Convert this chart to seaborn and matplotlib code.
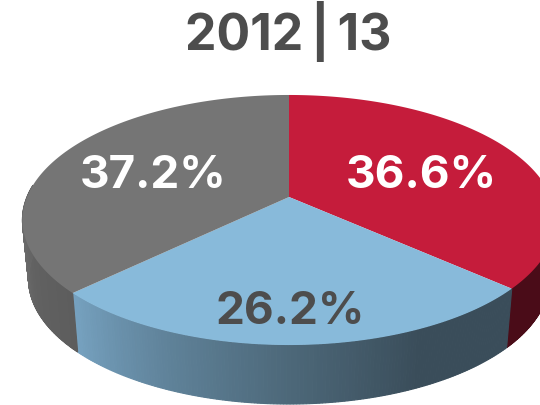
import numpy as np
import seaborn as sns
import matplotlib.pyplot as plt

title = "2012\u2009|\u200913"
shares = [36.6, 26.2, 37.2]
top_colors = ["#c51c3b", "#88bada", "#757575"]
wall_colors = [["#4a0c18", "#4a0c18"],
               ["#76a2c0", "#5f8299", "#4c6778", "#3a4d5a", "#3a4d5a"],
               ["#6b6b6b", "#636363", "#5d5d5d"]]
label_colors = ["white", "#4d4d4d", "white"]
label_pos = [(421, 176), (290, 312), (153, 176)]

cx, cy = 289, 197
rx, a, k = 262, 120.8, 0.184
wall_h = 59
wall_shrink = 0.977


def project(theta):
    # flat disc seen in perspective, theta runs clockwise from 12 o'clock
    u, v = np.sin(theta), np.cos(theta)
    d = 1 + k * v
    return cx + rx * u / d, cy - a * v / d


def project_low(theta):
    x, y = project(theta)
    return cx + (x - cx) * wall_shrink, y + wall_h


sns.set_theme(style="white")
plt.rcParams["font.family"] = ["Inter", "DejaVu Sans"]
fig = plt.figure(figsize=(5.4, 4.05), dpi=100)
ax = fig.add_axes([0, 0, 1, 1])
ax.set_xlim(0, 540)
ax.set_ylim(405, 0)
ax.axis("off")

edges = np.radians(np.cumsum([0] + shares) * 3.6)

# side walls, only the part facing us
for i in range(3):
    lo, hi = max(edges[i], np.pi / 2 - 0.1), min(edges[i + 1], 3 * np.pi / 2 + 0.1)
    steps = np.linspace(lo, hi, 160)
    x0, _ = project(steps)
    pal = sns.blend_palette(wall_colors[i], 160)
    # blue wall shades from left to right, so walk it along the screen
    rank = np.argsort(np.argsort(x0))
    for j in range(159):
        t = steps[j:j + 2]
        xt, yt = project(t)
        xb, yb = project_low(t)
        ax.fill(np.r_[xt, xb[::-1]], np.r_[yt, yb[::-1]], color=pal[rank[j]], lw=0.8, zorder=1)

# top face
for i in range(3):
    t = np.linspace(edges[i], edges[i + 1], 200)
    x, y = project(t)
    ax.fill(np.r_[cx, x], np.r_[cy, y], color=top_colors[i], lw=0, zorder=2)

for i in range(3):
    ax.text(label_pos[i][0], label_pos[i][1], "%.1f%%" % shares[i], color=label_colors[i],
            fontsize=33, fontweight="bold", ha="center", va="center", zorder=3)

ax.text(288, 32, title, color="#4d4d4d", fontsize=36, fontweight="bold", ha="center", va="center")

fig.savefig("out.png", dpi=100)
